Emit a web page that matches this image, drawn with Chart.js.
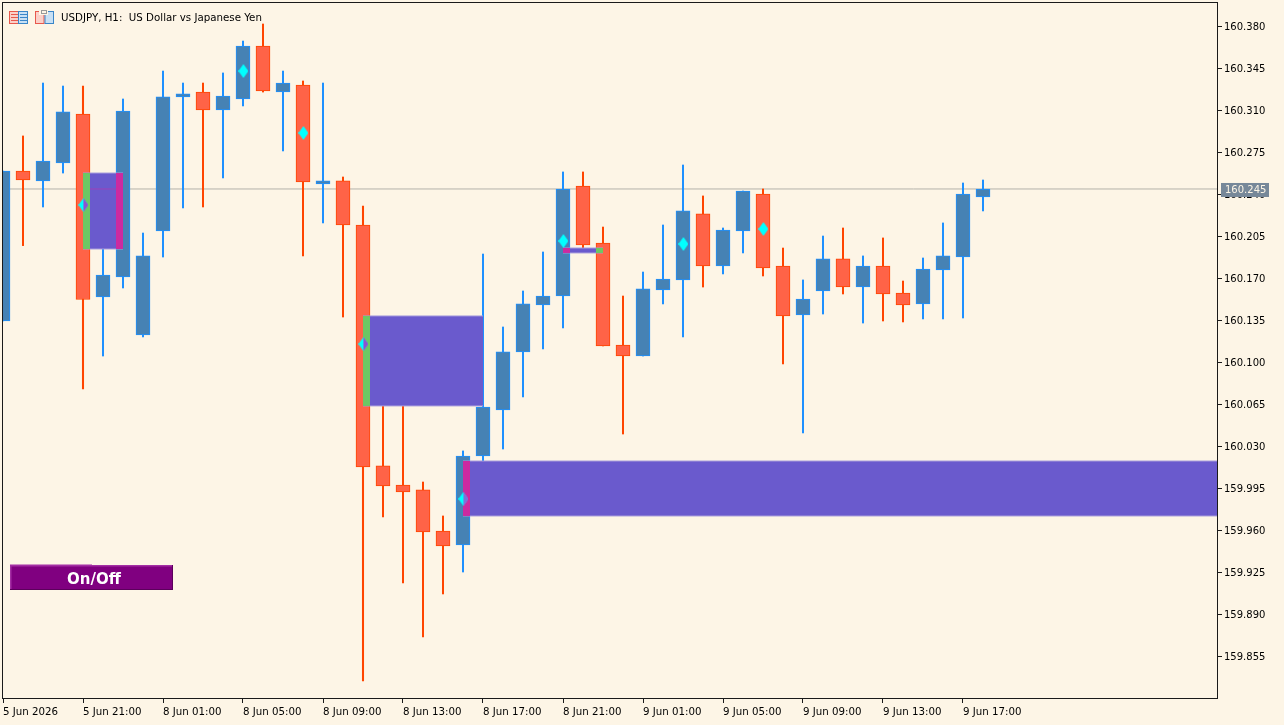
<!DOCTYPE html>
<html>
<head>
<meta charset="utf-8">
<title>USDJPY H1</title>
<style>
html, body { margin: 0; padding: 0; background: #FDF5E6; }
canvas { display: block; }
</style>
<script src="https://cdn.jsdelivr.net/npm/chart.js@4/dist/chart.umd.min.js"></script>
</head>
<body>
<canvas id="priceChart" width="1284" height="725"></canvas>
<script>
// candles, one per hour, index 0 is the first bar on the left edge
const opens = [160.135, 160.26, 160.2517, 160.2667, 160.3075, 160.155, 160.1717, 160.1233, 160.21, 160.3217,
    160.3258, 160.3108, 160.32, 160.3642, 160.3258, 160.3317, 160.2492, 160.2517, 160.215, 160.0142,
    159.9983, 159.9942, 159.96, 159.9483, 160.0225, 160.0608, 160.1092, 160.1483, 160.1558, 160.2475,
    160.2, 160.115, 160.1058, 160.1608, 160.1692, 160.2242, 160.1808, 160.21, 160.2408, 160.1808,
    160.14, 160.16, 160.1867, 160.1633, 160.1808, 160.1583, 160.1492, 160.1775, 160.1883, 160.2383];
const highs = [160.26, 160.2892, 160.3333, 160.3308, 160.3308, 160.2358, 160.32, 160.2083, 160.3433, 160.3333,
    160.3333, 160.3417, 160.3683, 160.3825, 160.3433, 160.335, 160.3333, 160.255, 160.2308, 160.0858,
    160.0658, 160.0008, 159.9725, 160.0267, 160.1908, 160.13, 160.16, 160.1925, 160.2592, 160.2592,
    160.2133, 160.1558, 160.1758, 160.215, 160.265, 160.2392, 160.2125, 160.2433, 160.245, 160.1958,
    160.1692, 160.2058, 160.2125, 160.1892, 160.2042, 160.1683, 160.1875, 160.2167, 160.25, 160.2525];
const lows = [160.135, 160.1978, 160.23, 160.2583, 160.0783, 160.1058, 160.1625, 160.1217, 160.1883, 160.2292,
    160.23, 160.2542, 160.3142, 160.3258, 160.2767, 160.1892, 160.2167, 160.1383, 159.835, 159.9717,
    159.9167, 159.8717, 159.9075, 159.9258, 160.0175, 160.0283, 160.0717, 160.1117, 160.1292, 160.1942,
    160.1142, 160.0408, 160.1058, 160.1492, 160.1217, 160.1633, 160.1742, 160.1917, 160.1725, 160.0992,
    160.0417, 160.1408, 160.1575, 160.1333, 160.135, 160.1342, 160.1367, 160.1367, 160.1375, 160.2267];
const closes = [160.26, 160.2525, 160.2683, 160.3092, 160.1529, 160.1733, 160.31, 160.1892, 160.3217, 160.3242,
    160.3108, 160.3225, 160.3642, 160.3267, 160.3333, 160.2508, 160.2517, 160.215, 160.0133, 159.9975,
    159.9925, 159.9592, 159.9475, 160.0225, 160.0633, 160.1092, 160.1492, 160.1558, 160.245, 160.1983,
    160.1142, 160.1058, 160.1617, 160.17, 160.2267, 160.1808, 160.2108, 160.2433, 160.1792, 160.1392,
    160.1533, 160.1867, 160.1633, 160.1808, 160.1575, 160.1483, 160.1783, 160.1892, 160.2408, 160.245];

// signal diamonds
const diamondBars = [4, 12, 15, 18, 23, 28, 34, 38];
const diamondPrices = [160.2317, 160.3433, 160.2917, 160.1158, 159.9867, 160.2017, 160.1992, 160.2117];
const diamondKinds = ['green', 'plain', 'plain', 'green', 'magenta', 'plain', 'plain', 'plain'];

// zones (boxes)
const zoneStart = [4, 18, 23, 28];
const zoneEnd = [6, 24, 60.7, 30];
const zoneTop = [160.2583, 160.1392, 160.0183, 160.1958];
const zoneBottom = [160.195, 160.0642, 159.9725, 160.1917];

// coloured strips at the zone ends
const greenZone = [0, 1, 3];
const greenFrom = [4, 18, 29.65];
const greenTo = [4.35, 18.35, 30];
const magentaZone = [0, 2, 3];
const magentaFrom = [5.65, 23, 28];
const magentaTo = [6, 23.35, 28.35];

const currentPrice = 160.245;
const priceTicks = [160.38, 160.345, 160.31, 160.275, 160.24, 160.205, 160.17, 160.135, 160.1, 160.065,
    160.03, 159.995, 159.96, 159.925, 159.89, 159.855];
const timeTickBars = [0, 4, 8, 12, 16, 20, 24, 28, 32, 36, 40, 44, 48];
const timeTickLabels = ['5 Jun 2026', '5 Jun 21:00', '8 Jun 01:00', '8 Jun 05:00', '8 Jun 09:00', '8 Jun 13:00',
    '8 Jun 17:00', '8 Jun 21:00', '9 Jun 01:00', '9 Jun 05:00', '9 Jun 09:00', '9 Jun 13:00', '9 Jun 17:00'];
const chartTitle = 'USDJPY, H1:  US Dollar vs Japanese Yen';

const BG = '#FDF5E6';
const UP_BODY = '#4682B4', UP_LINE = '#1E90FF';
const DOWN_BODY = '#FF6347', DOWN_LINE = '#FF4500';
const ZONE = '#6A5ACD', GREEN = '#6CC864', MAGENTA = '#CC2AA0';
const ZONE_EDGE = '#A79CDC';

function diamondImage(rightColor) {
    const c = document.createElement('canvas');
    c.width = 10; c.height = 14;
    const g = c.getContext('2d');
    g.fillStyle = '#00FFFF';
    g.beginPath(); g.moveTo(5, 0); g.lineTo(10, 7); g.lineTo(5, 14); g.lineTo(0, 7); g.closePath(); g.fill();
    if (rightColor) {
        g.fillStyle = rightColor;
        g.beginPath(); g.moveTo(5, 0); g.lineTo(10, 7); g.lineTo(5, 14); g.closePath(); g.fill();
    }
    return c;
}

const diamondImages = {
    plain: diamondImage(null),
    green: diamondImage('#9050D0'),
    magenta: diamondImage('#8070D8')
};

function boxDataset(from, to, top, bottom, color, order) {
    return {
        type: 'line',
        data: [{ x: from, y: top }, { x: to, y: top }],
        borderWidth: 0,
        pointRadius: 0,
        backgroundColor: color,
        fill: { value: bottom },
        tension: 0,
        order: order
    };
}

function edgeDataset(from, to, price, order) {
    return {
        type: 'line',
        data: [{ x: from, y: price }, { x: to, y: price }],
        borderColor: ZONE_EDGE,
        borderWidth: 1,
        pointRadius: 0,
        order: order
    };
}

const barIndex = opens.map((o, i) => i);
const isUp = opens.map((o, i) => closes[i] >= o);

const datasets = [];

// image point style ignores the radius, small radius keeps the layout padding down
datasets.push({
    type: 'scatter',
    data: diamondBars.map((b, i) => ({ x: b + 0.02, y: diamondPrices[i] })),
    pointStyle: diamondKinds.map(k => diamondImages[k]),
    pointRadius: 2,
    pointHoverRadius: 0,
    pointBorderWidth: 0,
    showLine: false,
    order: 1
});

// faint price line seen through the first zone
datasets.push({
    type: 'line',
    data: [{ x: 4.35, y: currentPrice }, { x: 5.65, y: currentPrice }],
    borderColor: '#A040B8',
    borderWidth: 1,
    pointRadius: 0,
    order: 2
});

greenZone.forEach((z, i) => datasets.push(boxDataset(greenFrom[i], greenTo[i], zoneTop[z], zoneBottom[z], GREEN, 3)));
magentaZone.forEach((z, i) => datasets.push(boxDataset(magentaFrom[i], magentaTo[i], zoneTop[z], zoneBottom[z], MAGENTA, 3)));
zoneStart.forEach((s, i) => {
    datasets.push(edgeDataset(s, zoneEnd[i], zoneTop[i], 4));
    datasets.push(edgeDataset(s, zoneEnd[i], zoneBottom[i], 4));
    datasets.push(boxDataset(s, zoneEnd[i], zoneTop[i], zoneBottom[i], ZONE, 4.5));
});

datasets.push({
    type: 'bar',
    data: barIndex.map(i => ({ x: i, y: [opens[i], closes[i]] })),
    backgroundColor: isUp.map(u => u ? UP_BODY : DOWN_BODY),
    borderColor: isUp.map(u => u ? UP_LINE : DOWN_LINE),
    borderWidth: 1,
    borderSkipped: false,
    barThickness: 14,
    grouped: false,
    order: 5
});

datasets.push({
    type: 'bar',
    data: barIndex.map(i => ({ x: i, y: [lows[i], highs[i]] })),
    backgroundColor: isUp.map(u => u ? UP_LINE : DOWN_LINE),
    borderWidth: 0,
    barThickness: 1.4,
    grouped: false,
    order: 6
});

datasets.push({
    type: 'line',
    data: [{ x: 0, y: currentPrice }, { x: 60.7, y: currentPrice }],
    borderColor: '#B4B2AA',
    borderWidth: 1,
    pointRadius: 0,
    order: 7
});

function drawIcons(ctx) {
    // list icon
    ctx.lineWidth = 1;
    ctx.fillStyle = '#FBD0C8'; ctx.fillRect(9.5, 11.5, 9, 12);
    ctx.fillStyle = '#C8E0F4'; ctx.fillRect(18.5, 11.5, 9, 12);
    ctx.strokeStyle = '#E8584C'; ctx.strokeRect(9.5, 11.5, 9, 12);
    ctx.strokeStyle = '#3A86C8'; ctx.strokeRect(18.5, 11.5, 9, 12);
    ctx.fillStyle = '#E8584C';
    [14, 17, 20].forEach(y => ctx.fillRect(11, y, 7, 1));
    ctx.fillStyle = '#3A86C8';
    [14, 17, 20].forEach(y => ctx.fillRect(20, y, 7, 1));
    // template icon
    ctx.fillStyle = '#FBD0C8'; ctx.fillRect(36, 11.5, 8, 12);
    ctx.fillStyle = '#C8E0F4'; ctx.fillRect(45, 11.5, 8, 12);
    ctx.strokeStyle = '#E8584C'; ctx.strokeRect(35.5, 11.5, 8.5, 12);
    ctx.strokeStyle = '#3A86C8'; ctx.strokeRect(45, 11.5, 8.5, 12);
    ctx.fillStyle = '#FDF5E6'; ctx.fillRect(39, 10, 9, 5);
    ctx.strokeStyle = '#999'; ctx.strokeRect(41.5, 10.5, 5, 3);
}

function drawButton(ctx) {
    ctx.fillStyle = '#800080';
    ctx.fillRect(10, 565, 163, 25);
    ctx.fillStyle = '#A42EA4';
    ctx.fillRect(10, 565, 163, 1.5);
    ctx.fillRect(10, 564.5, 82, 1);
    ctx.fillRect(10, 565, 1.5, 25);
    ctx.fillStyle = '#5C005C';
    ctx.fillRect(172, 565, 1, 25);
    ctx.fillRect(10, 589, 163, 1);
    ctx.fillStyle = '#FFFFFF';
    ctx.font = 'bold 15px "DejaVu Sans"';
    ctx.textAlign = 'center';
    ctx.textBaseline = 'middle';
    ctx.fillText('On/Off', 94, 580);
}

const terminalDecor = {
    id: 'terminalDecor',
    afterDraw(chart) {
        const ctx = chart.ctx;
        const area = chart.chartArea;
        const yScale = chart.scales.y;
        ctx.save();

        // frame
        ctx.strokeStyle = '#1A1A1A';
        ctx.lineWidth = 1;
        ctx.strokeRect(area.left - 0.5, area.top - 0.5, area.width + 1, area.height + 1);

        drawIcons(ctx);

        ctx.fillStyle = '#000000';
        ctx.font = '10.25px "DejaVu Sans"';
        ctx.textAlign = 'left';
        ctx.textBaseline = 'middle';
        ctx.fillText(chartTitle, 61, 18);

        drawButton(ctx);

        // current price tag
        const py = yScale.getPixelForValue(currentPrice);
        ctx.fillStyle = '#778899';
        ctx.fillRect(1221, py - 6, 48, 14);
        ctx.fillStyle = BG;
        ctx.textAlign = 'left';
        ctx.font = '10px "DejaVu Sans"';
        ctx.fillText(currentPrice.toFixed(3), 1225, py + 1.5);

        ctx.restore();
    }
};

new Chart(document.getElementById('priceChart'), {
    data: { datasets: datasets },
    plugins: [terminalDecor],
    options: {
        responsive: false,
        animation: false,
        devicePixelRatio: 1,
        layout: { padding: { left: 3, top: 3, right: 0, bottom: 0 } },
        plugins: {
            legend: { display: false },
            tooltip: { enabled: false },
            title: { display: false }
        },
        scales: {
            x: {
                type: 'linear',
                min: 0,
                max: 60.7,
                offset: false,
                grid: { drawOnChartArea: false, drawTicks: true, tickLength: 5, color: '#1A1A1A', offset: false },
                border: { display: false },
                afterFit: s => { s.height = 27; s.paddingLeft = 0; s.paddingRight = 0; },
                afterBuildTicks: s => { s.ticks = timeTickBars.map(v => ({ value: v })); },
                ticks: {
                    autoSkip: false,
                    maxRotation: 0,
                    minRotation: 0,
                    align: 'start',
                    padding: 3,
                    color: '#000000',
                    font: { family: 'DejaVu Sans', size: 10.25 },
                    callback: (value) => timeTickLabels[timeTickBars.indexOf(value)]
                }
            },
            y: {
                type: 'linear',
                position: 'right',
                min: 159.8208,
                max: 160.4,
                grid: { drawOnChartArea: false, drawTicks: true, tickLength: 5, color: '#1A1A1A' },
                border: { display: false },
                afterFit: s => { s.width = 67; s.paddingTop = 0; s.paddingBottom = 0; },
                afterBuildTicks: s => { s.ticks = priceTicks.map(v => ({ value: v })); },
                ticks: {
                    padding: 2,
                    color: '#000000',
                    font: { family: 'DejaVu Sans', size: 10 },
                    callback: (value) => value.toFixed(3)
                }
            }
        }
    }
});
</script>
</body>
</html>
